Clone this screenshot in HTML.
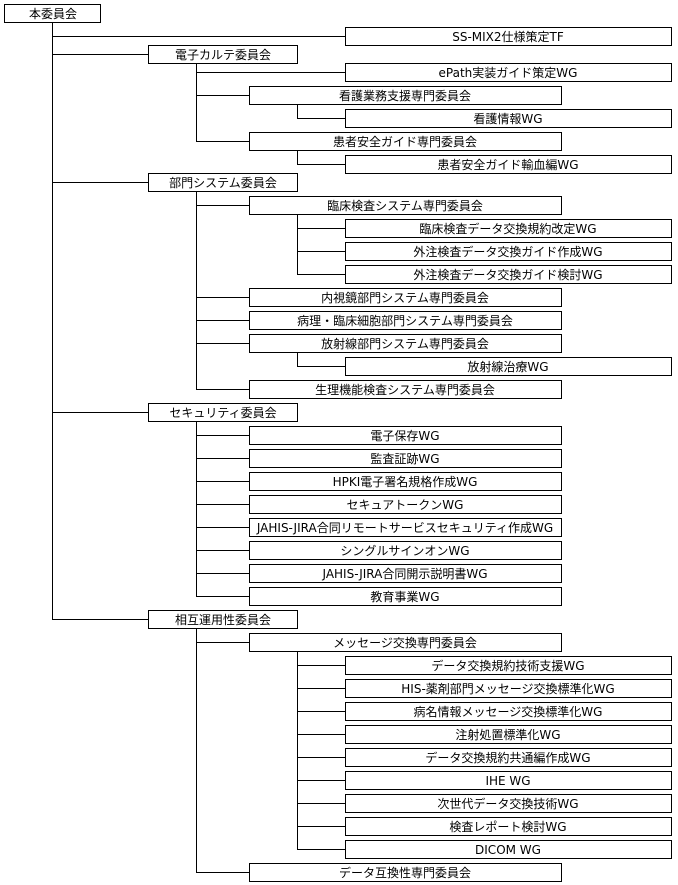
<!DOCTYPE html>
<html><head><meta charset="utf-8"><style>
html,body{margin:0;padding:0;background:#fff;}
svg{display:block;}
text{font-family:"DejaVu Sans","Noto Sans CJK JP",sans-serif;font-size:12px;fill:#000;text-anchor:middle;}
</style></head><body>
<svg width="678" height="885" viewBox="0 0 678 885" xmlns="http://www.w3.org/2000/svg">
<g stroke="#000" stroke-width="1" fill="none" shape-rendering="crispEdges">
<path d="M52.5 22 V619.5 M52 36.5 H345 M52 54.5 H148 M52 182.5 H148 M52 412.5 H148 M52 619.5 H148"/>
<path d="M196.5 63 V141.5 M196 72.5 H345 M196 95.5 H249 M196 141.5 H249"/>
<path d="M297.5 104 V118.5 H345 M297.5 150 V164.5 H345"/>
<path d="M196.5 191 V389.5 M196 205.5 H249 M196 297.5 H249 M196 320.5 H249 M196 343.5 H249 M196 389.5 H249"/>
<path d="M297.5 214 V274.5 M297 228.5 H345 M297 251.5 H345 M297 274.5 H345"/>
<path d="M297.5 352 V366.5 H345"/>
<path d="M196.5 421 V596.5 M196 435.5 H249 M196 458.5 H249 M196 481.5 H249 M196 504.5 H249 M196 527.5 H249 M196 550.5 H249 M196 573.5 H249 M196 596.5 H249"/>
<path d="M196.5 628 V872.5 M196 642.5 H249 M196 872.5 H249"/>
<path d="M297.5 651 V849.5 M297 665.5 H345 M297 688.5 H345 M297 711.5 H345 M297 734.5 H345 M297 757.5 H345 M297 780.5 H345 M297 803.5 H345 M297 826.5 H345 M297 849.5 H345"/>
<g fill="#fff">
<rect x="4.5" y="4.5" width="96" height="18"/>
<rect x="345.5" y="27.5" width="326" height="18"/>
<rect x="148.5" y="45.5" width="149" height="18"/>
<rect x="345.5" y="63.5" width="326" height="18"/>
<rect x="249.5" y="86.5" width="312" height="18"/>
<rect x="345.5" y="109.5" width="326" height="18"/>
<rect x="249.5" y="132.5" width="312" height="18"/>
<rect x="345.5" y="155.5" width="326" height="18"/>
<rect x="148.5" y="173.5" width="149" height="18"/>
<rect x="249.5" y="196.5" width="312" height="18"/>
<rect x="345.5" y="219.5" width="326" height="18"/>
<rect x="345.5" y="242.5" width="326" height="18"/>
<rect x="345.5" y="265.5" width="326" height="18"/>
<rect x="249.5" y="288.5" width="312" height="18"/>
<rect x="249.5" y="311.5" width="312" height="18"/>
<rect x="249.5" y="334.5" width="312" height="18"/>
<rect x="345.5" y="357.5" width="326" height="18"/>
<rect x="249.5" y="380.5" width="312" height="18"/>
<rect x="148.5" y="403.5" width="149" height="18"/>
<rect x="249.5" y="426.5" width="312" height="18"/>
<rect x="249.5" y="449.5" width="312" height="18"/>
<rect x="249.5" y="472.5" width="312" height="18"/>
<rect x="249.5" y="495.5" width="312" height="18"/>
<rect x="249.5" y="518.5" width="312" height="18"/>
<rect x="249.5" y="541.5" width="312" height="18"/>
<rect x="249.5" y="564.5" width="312" height="18"/>
<rect x="249.5" y="587.5" width="312" height="18"/>
<rect x="148.5" y="610.5" width="149" height="18"/>
<rect x="249.5" y="633.5" width="312" height="18"/>
<rect x="345.5" y="656.5" width="326" height="18"/>
<rect x="345.5" y="679.5" width="326" height="18"/>
<rect x="345.5" y="702.5" width="326" height="18"/>
<rect x="345.5" y="725.5" width="326" height="18"/>
<rect x="345.5" y="748.5" width="326" height="18"/>
<rect x="345.5" y="771.5" width="326" height="18"/>
<rect x="345.5" y="794.5" width="326" height="18"/>
<rect x="345.5" y="817.5" width="326" height="18"/>
<rect x="345.5" y="840.5" width="326" height="18"/>
<rect x="249.5" y="863.5" width="312" height="18"/>
</g>
</g>
<g>
<text x="53" y="18">本委員会</text>
<text x="508" y="41">SS-MIX2仕様策定TF</text>
<text x="223" y="59">電子カルテ委員会</text>
<text x="508" y="77">ePath実装ガイド策定WG</text>
<text x="405" y="100">看護業務支援専門委員会</text>
<text x="508" y="123">看護情報WG</text>
<text x="405" y="146">患者安全ガイド専門委員会</text>
<text x="508" y="169">患者安全ガイド輸血編WG</text>
<text x="223" y="187">部門システム委員会</text>
<text x="405" y="210">臨床検査システム専門委員会</text>
<text x="508" y="233">臨床検査データ交換規約改定WG</text>
<text x="508" y="256">外注検査データ交換ガイド作成WG</text>
<text x="508" y="279">外注検査データ交換ガイド検討WG</text>
<text x="405" y="302">内視鏡部門システム専門委員会</text>
<text x="405" y="325">病理・臨床細胞部門システム専門委員会</text>
<text x="405" y="348">放射線部門システム専門委員会</text>
<text x="508" y="371">放射線治療WG</text>
<text x="405" y="394">生理機能検査システム専門委員会</text>
<text x="223" y="417">セキュリティ委員会</text>
<text x="405" y="440">電子保存WG</text>
<text x="405" y="463">監査証跡WG</text>
<text x="405" y="486">HPKI電子署名規格作成WG</text>
<text x="405" y="509">セキュアトークンWG</text>
<text x="405" y="532">JAHIS-JIRA合同リモートサービスセキュリティ作成WG</text>
<text x="405" y="555">シングルサインオンWG</text>
<text x="405" y="578">JAHIS-JIRA合同開示説明書WG</text>
<text x="405" y="601">教育事業WG</text>
<text x="223" y="624">相互運用性委員会</text>
<text x="405" y="647">メッセージ交換専門委員会</text>
<text x="508" y="670">データ交換規約技術支援WG</text>
<text x="508" y="693">HIS-薬剤部門メッセージ交換標準化WG</text>
<text x="508" y="716">病名情報メッセージ交換標準化WG</text>
<text x="508" y="739">注射処置標準化WG</text>
<text x="508" y="762">データ交換規約共通編作成WG</text>
<text x="508" y="785">IHE WG</text>
<text x="508" y="808">次世代データ交換技術WG</text>
<text x="508" y="831">検査レポート検討WG</text>
<text x="508" y="854">DICOM WG</text>
<text x="405" y="877">データ互換性専門委員会</text>
</g>
</svg>
</body></html>
